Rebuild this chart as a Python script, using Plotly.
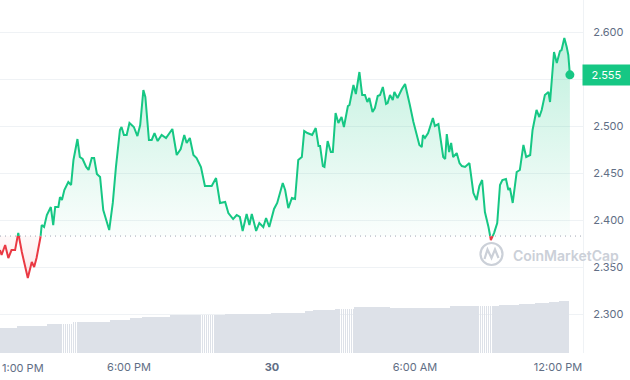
import numpy as np
import pandas as pd
import plotly.graph_objects as go

# ---------------- data ----------------
start_time = "2023-11-29 12:30"
open_price = 2.3835
last_price = 2.555

minutes = [5, 9, 18, 26, 34, 43, 51, 60, 75, 85,
           91, 97, 107, 110, 116, 123, 133, 139, 144, 152,
           156, 161, 167, 177, 184, 190, 200, 206, 213, 222,
           228, 236, 242, 249, 257, 265, 280, 289, 297, 307,
           311, 317, 324, 331, 342, 351, 358, 366, 371, 380,
           387, 394, 402, 412, 423, 439, 450, 460, 469, 475,
           483, 492, 500, 511, 521, 538, 549, 559, 572, 580,
           592, 601, 609, 616, 626, 633, 639, 650, 658, 668,
           675, 683, 695, 703, 717, 723, 731, 740, 748, 756,
           765, 771, 779, 791, 800, 807, 811, 818, 822, 830,
           838, 843, 850, 857, 865, 871, 881, 885, 895, 901,
           910, 917, 924, 930, 935, 943, 949, 956, 962, 969,
           977, 981, 987, 994, 998, 1006, 1017, 1025, 1037, 1046,
           1061, 1067, 1070, 1075, 1083, 1095, 1100, 1109, 1121, 1126,
           1130, 1136, 1141, 1146, 1155, 1162, 1168, 1176, 1187, 1197,
           1205, 1212, 1219, 1226, 1235, 1241, 1249, 1257, 1264, 1270,
           1279, 1285, 1289, 1296, 1306, 1314, 1323, 1330, 1340, 1346,
           1356, 1363, 1369, 1377, 1386, 1390, 1400, 1407, 1415, 1419,
           1426, 1432, 1436, 1440]

prices = [2.3686, 2.3633, 2.3740, 2.3601, 2.3686, 2.3686, 2.3867, 2.3665, 2.3389, 2.3559,
          2.3506, 2.3601, 2.3825, 2.3952, 2.3931, 2.4059, 2.4144, 2.3952, 2.4144, 2.4144,
          2.4250, 2.4218, 2.4325, 2.4410, 2.4378, 2.4644, 2.4867, 2.4676, 2.4655, 2.4570,
          2.4538, 2.4665, 2.4665, 2.4495, 2.4463, 2.4112, 2.3899, 2.4187, 2.4570, 2.4963,
          2.4995, 2.4910, 2.4910, 2.5038, 2.4995, 2.4899, 2.5016, 2.5389, 2.5314, 2.4857,
          2.4857, 2.4931, 2.4846, 2.4910, 2.4878, 2.4974, 2.4697, 2.4761, 2.4910, 2.4825,
          2.4878, 2.4697, 2.4665, 2.4570, 2.4367, 2.4367, 2.4452, 2.4187, 2.4197, 2.4080,
          2.4016, 2.4059, 2.4038, 2.3889, 2.4070, 2.3952, 2.4070, 2.3889, 2.3974, 2.3931,
          2.4027, 2.3931, 2.4123, 2.4187, 2.4399, 2.4325, 2.4133, 2.4240, 2.4229, 2.4644,
          2.4676, 2.4952, 2.4931, 2.4910, 2.4984, 2.4793, 2.4793, 2.4580, 2.4570, 2.4846,
          2.4729, 2.4729, 2.5144, 2.5038, 2.5101, 2.4995, 2.5218, 2.5229, 2.5442, 2.5346,
          2.5580, 2.5335, 2.5335, 2.5261, 2.5304, 2.5155, 2.5197, 2.5325, 2.5335, 2.5421,
          2.5240, 2.5250, 2.5335, 2.5282, 2.5367, 2.5304, 2.5399, 2.5452, 2.5229, 2.5048,
          2.4804, 2.4782, 2.4910, 2.4878, 2.4931, 2.5091, 2.5006, 2.5027, 2.4676, 2.4655,
          2.4920, 2.4729, 2.4825, 2.4676, 2.4718, 2.4612, 2.4580, 2.4570, 2.4612, 2.4293,
          2.4218, 2.4367, 2.4431, 2.4091, 2.3931, 2.3793, 2.3867, 2.3974, 2.4378, 2.4431,
          2.4442, 2.4325, 2.4346, 2.4187, 2.4516, 2.4538, 2.4804, 2.4676, 2.4697, 2.4963,
          2.5176, 2.5101, 2.5176, 2.5335, 2.5367, 2.5261, 2.5793, 2.5676, 2.5803, 2.5814,
          2.5942, 2.5846, 2.5761, 2.5550]

# 5-minute volume bars (arbitrary units, millions)
volume = [253, 253, 253, 253, 253, 253, 253, 253, 253, 253, 270, 270,
          270, 270, 270, 270, 270, 270, 270, 270, 270, 270, 270, 270,
          270, 290, 290, 290, 290, 290, 290, 290, 290, 290, 290, 290,
          290, 290, 310, 310, 310, 310, 310, 310, 310, 310, 310, 310,
          310, 310, 310, 310, 310, 310, 310, 310, 310, 330, 330, 330,
          330, 330, 330, 330, 330, 330, 330, 350, 350, 350, 350, 350,
          350, 363, 363, 363, 363, 363, 363, 363, 363, 363, 363, 363,
          363, 363, 363, 380, 380, 380, 380, 380, 380, 380, 380, 380,
          380, 380, 380, 380, 380, 380, 380, 380, 380, 380, 380, 380,
          380, 380, 380, 380, 380, 380, 380, 390, 390, 390, 390, 390,
          390, 390, 390, 390, 390, 390, 390, 390, 390, 390, 390, 390,
          390, 390, 390, 390, 390, 390, 403, 403, 403, 403, 403, 403,
          403, 403, 403, 403, 403, 403, 403, 403, 403, 403, 403, 420,
          420, 420, 420, 430, 430, 430, 430, 430, 430, 430, 430, 430,
          430, 430, 440, 440, 440, 440, 440, 440, 440, 440, 440, 440,
          460, 460, 460, 460, 460, 460, 460, 460, 460, 460, 460, 460,
          460, 460, 460, 460, 460, 460, 453, 453, 453, 453, 453, 453,
          453, 453, 453, 453, 453, 453, 453, 453, 453, 453, 453, 453,
          453, 453, 453, 453, 453, 453, 453, 453, 453, 453, 453, 453,
          470, 470, 470, 470, 470, 470, 470, 470, 470, 470, 470, 470,
          470, 470, 470, 470, 470, 470, 470, 470, 470, 470, 470, 470,
          470, 483, 483, 483, 483, 483, 483, 483, 483, 483, 483, 490,
          490, 490, 490, 490, 490, 490, 490, 500, 500, 500, 500, 500,
          500, 500, 510, 510, 510, 510, 510, 523, 523, 523, 523, 523]
vol_step_min = 5

y_ticks = [2.300, 2.350, 2.400, 2.450, 2.500, 2.550, 2.600]
x_tick_times = ["2023-11-29 18:00", "2023-11-30 00:00", "2023-11-30 06:00", "2023-11-30 12:00"]
x_tick_text = ["6:00 PM", "<b>30</b>", "6:00 AM", "12:00 PM"]
first_label = "1:00 PM"

# ---------------- styling ----------------
GREEN = "#16c784"
RED = "#ea3943"
GRID = "#eff2f5"
LABEL = "#616e85"
FONT = "Inter"

W, H = 630, 380
ML, MR, MT, MB = 0, 47, 0, 27
PW, PH = W - ML - MR, H - MT - MB

start = pd.Timestamp(start_time)
m = np.array(minutes, dtype=float)
p = np.array(prices, dtype=float)

# insert crossings with the open price so colours switch exactly there
dm, dp = [m[0]], [p[0]]
for i in range(1, len(m)):
    a, b = p[i - 1] - open_price, p[i] - open_price
    if a * b < 0:
        f = a / (a - b)
        dm.append(m[i - 1] + f * (m[i] - m[i - 1]))
        dp.append(open_price)
    dm.append(m[i])
    dp.append(p[i])
dm = np.array(dm)
dp = np.array(dp)
dt = start + pd.to_timedelta(dm, unit="m")

up = np.maximum(dp, open_price)
dn = np.minimum(dp, open_price)
green_line = np.where(dp >= open_price, dp, np.nan)
red_line = np.where(dp <= open_price, dp, np.nan)

vol_t = start + pd.to_timedelta(np.arange(len(volume)) * vol_step_min, unit="m")

fig = go.Figure()

fig.add_trace(go.Bar(x=vol_t, y=volume, yaxis="y2", marker_color="#dde1e8",
                     marker_line_width=0, width=vol_step_min * 60000 * 0.45,
                     hoverinfo="skip"))

base_x = [dt[0], dt[-1]]
fig.add_trace(go.Scatter(x=base_x, y=[open_price, open_price], mode="lines",
                         line=dict(width=0), hoverinfo="skip"))
fig.add_trace(go.Scatter(x=dt, y=up, mode="lines", line=dict(width=0), fill="tonexty",
                         fillgradient=dict(type="vertical",
                                           colorscale=[[0, "rgba(22,199,132,0.02)"],
                                                       [1, "rgba(22,199,132,0.28)"]],
                                           start=open_price, stop=2.60),
                         hoverinfo="skip"))
fig.add_trace(go.Scatter(x=base_x, y=[open_price, open_price], mode="lines",
                         line=dict(width=0), hoverinfo="skip"))
fig.add_trace(go.Scatter(x=dt, y=dn, mode="lines", line=dict(width=0), fill="tonexty",
                         fillgradient=dict(type="vertical",
                                           colorscale=[[0, "rgba(234,57,67,0.14)"],
                                                       [1, "rgba(234,57,67,0.03)"]],
                                           start=2.335, stop=open_price),
                         hoverinfo="skip"))
fig.add_trace(go.Scatter(x=dt, y=green_line, mode="lines", connectgaps=False,
                         line=dict(color=GREEN, width=2, shape="linear"), hoverinfo="skip"))
fig.add_trace(go.Scatter(x=dt, y=red_line, mode="lines", connectgaps=False,
                         line=dict(color=RED, width=2), hoverinfo="skip"))
fig.add_trace(go.Scatter(x=[dt[-1]], y=[p[-1]], mode="markers",
                         marker=dict(color=GREEN, size=9), hoverinfo="skip"))

y_text = [f"{v:.3f}" if abs(v - 2.55) > 1e-9 else "" for v in y_ticks]


def px_x(x):
    return (x - ML) / PW


def px_y(y):
    return (H - MB - y) / PH


shapes = [
    dict(type="line", xref="paper", yref="y", x0=0, x1=1, y0=open_price, y1=open_price,
         line=dict(color="#a1a7b3", width=1, dash="1px,4px")),
    # watermark logo
    dict(type="circle", xref="paper", yref="paper",
         x0=px_x(480.5), x1=px_x(502.5), y0=px_y(265), y1=px_y(243),
         line=dict(color="#cbd0d8", width=2.2)),
    dict(type="path", xref="paper", yref="paper",
         path=(f"M {px_x(484.5)} {px_y(259)} L {px_x(487.5)} {px_y(249.5)} "
               f"L {px_x(491.5)} {px_y(258)} L {px_x(495)} {px_y(249.5)} "
               f"L {px_x(498.5)} {px_y(258)}"),
         line=dict(color="#cbd0d8", width=2.2)),
]

annotations = [
    dict(xref="paper", yref="y", x=1, y=last_price, xanchor="left", yanchor="middle",
         xshift=-1, text=f"{last_price:.3f}", showarrow=False, bgcolor=GREEN,
         font=dict(color="white", size=11, family=FONT), width=45, height=18, borderpad=1),
    dict(xref="paper", yref="paper", x=0, y=px_y(368), xanchor="left", yanchor="middle",
         text=first_label, showarrow=False, font=dict(color=LABEL, size=11, family=FONT)),
    dict(xref="paper", yref="paper", x=px_x(511), y=px_y(255), xanchor="left",
         yanchor="middle", text="CoinMarketCap", showarrow=False,
         font=dict(color="#cbd0d8", size=14, family=FONT, weight=600)),
]

fig.update_layout(
    width=W, height=H,
    margin=dict(l=ML, r=MR, t=MT, b=MB, pad=0, autoexpand=False),
    paper_bgcolor="white", plot_bgcolor="white",
    showlegend=False, bargap=0,
    font=dict(family=FONT, color=LABEL, size=11),
    xaxis=dict(type="date", automargin=False,
               range=[start + pd.Timedelta(minutes=5), start + pd.Timedelta(minutes=1473)],
               tickvals=pd.to_datetime(x_tick_times), ticktext=x_tick_text,
               showgrid=False, zeroline=False, showline=False, ticks="",
               ticklabelstandoff=6, tickfont=dict(size=11, color=LABEL, family=FONT)),
    yaxis=dict(side="right", automargin=False, range=[2.2591, 2.6346],
               tickvals=y_ticks, ticktext=y_text,
               showgrid=True, gridcolor=GRID, gridwidth=1, zeroline=False,
               showline=True, linecolor=GRID, ticks="", ticklabelstandoff=7,
               tickfont=dict(size=11, color=LABEL, family=FONT)),
    yaxis2=dict(overlaying="y", range=[0, 3530], visible=False, showgrid=False),
    shapes=shapes,
    annotations=annotations,
)

fig.write_html("out.html", config={"displayModeBar": False},
               post_script="document.body.style.margin='0';document.body.style.padding='0';")
